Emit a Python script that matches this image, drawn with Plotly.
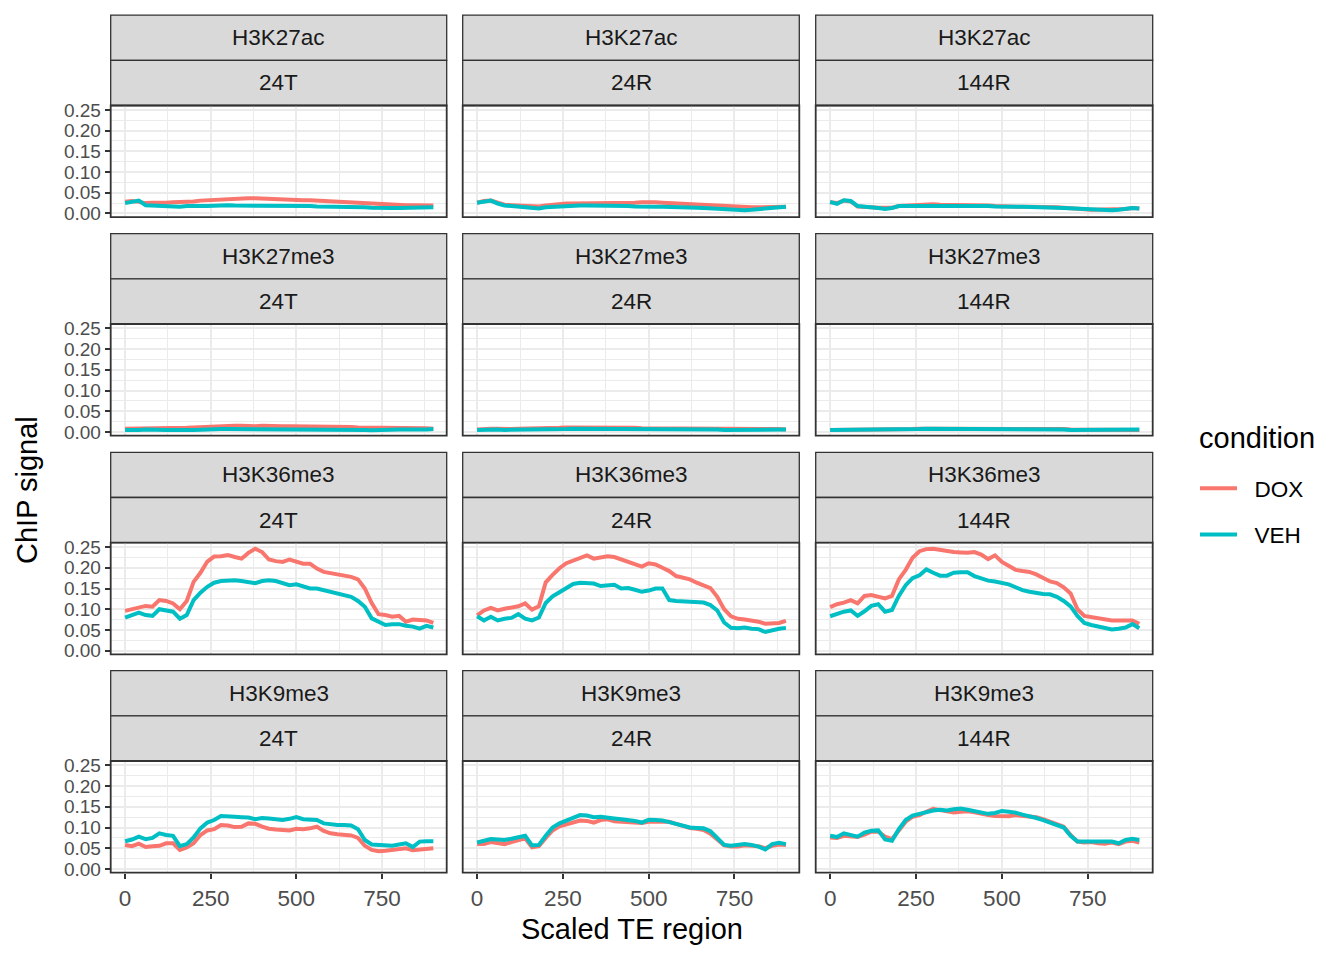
import plotly.graph_objects as go

# ---------------- data ----------------
MARKS = ["H3K27ac", "H3K27me3", "H3K36me3", "H3K9me3"]
TIMES = ["24T", "24R", "144R"]
CONDITIONS = ["DOX", "VEH"]
X_POS = list(range(0, 901, 20))  # scaled TE region bins
X_TICKS = [0, 250, 500, 750]
Y_TICKS = [0.00, 0.05, 0.10, 0.15, 0.20, 0.25]

# H3K27ac
dox_k27ac_24T = [0.028, 0.030, 0.028, 0.025, 0.026, 0.025, 0.026, 0.027, 0.027, 0.028, 0.029, 0.031, 0.032, 0.034, 0.035, 0.036, 0.036, 0.036, 0.037, 0.037, 0.036, 0.035, 0.034, 0.034, 0.033, 0.033, 0.032, 0.032, 0.031, 0.031, 0.030, 0.029, 0.028, 0.027, 0.026, 0.025, 0.024, 0.023, 0.022, 0.021, 0.021, 0.020, 0.020, 0.019, 0.019, 0.019]
veh_k27ac_24T = [0.025, 0.028, 0.031, 0.020, 0.019, 0.018, 0.017, 0.016, 0.016, 0.018, 0.017, 0.018, 0.018, 0.019, 0.020, 0.020, 0.019, 0.019, 0.019, 0.019, 0.020, 0.019, 0.019, 0.019, 0.018, 0.018, 0.018, 0.018, 0.017, 0.017, 0.017, 0.016, 0.016, 0.016, 0.015, 0.015, 0.014, 0.013, 0.012, 0.013, 0.013, 0.013, 0.013, 0.013, 0.014, 0.015]
dox_k27ac_24R = [0.026, 0.030, 0.031, 0.027, 0.021, 0.020, 0.019, 0.019, 0.018, 0.017, 0.019, 0.021, 0.023, 0.024, 0.024, 0.024, 0.024, 0.024, 0.024, 0.025, 0.025, 0.025, 0.025, 0.026, 0.027, 0.028, 0.027, 0.026, 0.025, 0.024, 0.024, 0.023, 0.022, 0.020, 0.019, 0.018, 0.017, 0.016, 0.016, 0.015, 0.015, 0.015, 0.015, 0.015, 0.016, 0.016]
veh_k27ac_24R = [0.026, 0.028, 0.031, 0.024, 0.019, 0.018, 0.017, 0.015, 0.014, 0.012, 0.015, 0.016, 0.018, 0.018, 0.019, 0.019, 0.019, 0.019, 0.020, 0.020, 0.020, 0.019, 0.018, 0.017, 0.016, 0.016, 0.016, 0.016, 0.016, 0.016, 0.015, 0.014, 0.014, 0.013, 0.012, 0.011, 0.010, 0.009, 0.009, 0.008, 0.009, 0.010, 0.011, 0.012, 0.014, 0.016]
dox_k27ac_144R = [0.027, 0.025, 0.031, 0.029, 0.017, 0.017, 0.015, 0.014, 0.013, 0.014, 0.018, 0.019, 0.020, 0.021, 0.021, 0.022, 0.021, 0.021, 0.020, 0.020, 0.020, 0.021, 0.020, 0.019, 0.018, 0.017, 0.017, 0.017, 0.016, 0.016, 0.016, 0.017, 0.017, 0.015, 0.014, 0.012, 0.011, 0.010, 0.009, 0.009, 0.010, 0.011, 0.010, 0.011, 0.013, 0.012]
veh_k27ac_144R = [0.028, 0.023, 0.032, 0.030, 0.018, 0.017, 0.016, 0.013, 0.011, 0.013, 0.018, 0.018, 0.019, 0.019, 0.019, 0.020, 0.020, 0.020, 0.020, 0.020, 0.020, 0.020, 0.019, 0.018, 0.017, 0.016, 0.016, 0.016, 0.016, 0.016, 0.016, 0.016, 0.015, 0.014, 0.013, 0.012, 0.011, 0.010, 0.009, 0.008, 0.008, 0.008, 0.009, 0.011, 0.013, 0.012]

# H3K27me3
dox_k27me3_24T = [0.008, 0.008, 0.009, 0.009, 0.009, 0.010, 0.010, 0.009, 0.010, 0.010, 0.011, 0.012, 0.013, 0.014, 0.015, 0.015, 0.015, 0.015, 0.014, 0.014, 0.015, 0.014, 0.014, 0.014, 0.014, 0.014, 0.014, 0.013, 0.013, 0.013, 0.013, 0.012, 0.012, 0.012, 0.011, 0.011, 0.010, 0.010, 0.009, 0.009, 0.009, 0.009, 0.009, 0.009, 0.009, 0.008]
veh_k27me3_24T = [0.005, 0.004, 0.005, 0.006, 0.005, 0.004, 0.005, 0.005, 0.006, 0.005, 0.005, 0.006, 0.007, 0.007, 0.007, 0.007, 0.007, 0.007, 0.007, 0.006, 0.007, 0.007, 0.007, 0.006, 0.006, 0.007, 0.007, 0.007, 0.007, 0.007, 0.007, 0.006, 0.006, 0.007, 0.006, 0.005, 0.004, 0.005, 0.005, 0.005, 0.006, 0.006, 0.005, 0.006, 0.006, 0.007]
dox_k27me3_24R = [0.006, 0.008, 0.008, 0.008, 0.007, 0.007, 0.008, 0.008, 0.009, 0.009, 0.010, 0.010, 0.010, 0.011, 0.011, 0.010, 0.010, 0.011, 0.012, 0.011, 0.010, 0.010, 0.010, 0.010, 0.009, 0.009, 0.009, 0.009, 0.009, 0.009, 0.008, 0.008, 0.008, 0.008, 0.008, 0.008, 0.008, 0.007, 0.007, 0.007, 0.007, 0.007, 0.007, 0.007, 0.007, 0.006]
veh_k27me3_24R = [0.005, 0.006, 0.006, 0.006, 0.005, 0.005, 0.006, 0.006, 0.006, 0.006, 0.006, 0.007, 0.007, 0.007, 0.008, 0.008, 0.007, 0.007, 0.006, 0.007, 0.007, 0.007, 0.007, 0.007, 0.007, 0.007, 0.007, 0.007, 0.007, 0.006, 0.006, 0.006, 0.006, 0.006, 0.006, 0.006, 0.005, 0.005, 0.005, 0.005, 0.005, 0.005, 0.005, 0.005, 0.006, 0.006]
dox_k27me3_144R = [0.005, 0.005, 0.006, 0.006, 0.006, 0.006, 0.006, 0.006, 0.006, 0.006, 0.007, 0.007, 0.007, 0.008, 0.009, 0.008, 0.008, 0.008, 0.009, 0.009, 0.008, 0.008, 0.008, 0.008, 0.008, 0.008, 0.008, 0.007, 0.007, 0.007, 0.007, 0.007, 0.007, 0.007, 0.007, 0.006, 0.006, 0.006, 0.006, 0.006, 0.005, 0.005, 0.005, 0.005, 0.005, 0.005]
veh_k27me3_144R = [0.005, 0.005, 0.005, 0.005, 0.005, 0.005, 0.005, 0.005, 0.005, 0.005, 0.006, 0.006, 0.007, 0.007, 0.008, 0.008, 0.008, 0.008, 0.007, 0.007, 0.007, 0.007, 0.007, 0.007, 0.007, 0.007, 0.007, 0.006, 0.006, 0.006, 0.006, 0.006, 0.006, 0.006, 0.006, 0.005, 0.005, 0.005, 0.005, 0.005, 0.005, 0.005, 0.005, 0.005, 0.006, 0.006]

# H3K36me3
dox_k36me3_24T = [0.096, 0.100, 0.104, 0.108, 0.106, 0.122, 0.120, 0.114, 0.100, 0.120, 0.166, 0.188, 0.215, 0.227, 0.228, 0.231, 0.226, 0.222, 0.236, 0.246, 0.238, 0.220, 0.216, 0.214, 0.220, 0.215, 0.210, 0.210, 0.198, 0.190, 0.187, 0.184, 0.182, 0.178, 0.172, 0.150, 0.115, 0.088, 0.086, 0.082, 0.084, 0.070, 0.075, 0.074, 0.073, 0.067]
veh_k36me3_24T = [0.080, 0.086, 0.092, 0.086, 0.084, 0.100, 0.096, 0.094, 0.077, 0.086, 0.122, 0.140, 0.154, 0.164, 0.168, 0.170, 0.170, 0.168, 0.166, 0.163, 0.168, 0.170, 0.168, 0.164, 0.158, 0.160, 0.154, 0.150, 0.150, 0.146, 0.144, 0.140, 0.136, 0.130, 0.120, 0.106, 0.078, 0.070, 0.062, 0.064, 0.064, 0.060, 0.058, 0.053, 0.060, 0.056]
dox_k36me3_24R = [0.085, 0.097, 0.103, 0.097, 0.101, 0.105, 0.107, 0.114, 0.099, 0.107, 0.165, 0.183, 0.199, 0.211, 0.217, 0.224, 0.230, 0.222, 0.226, 0.228, 0.226, 0.220, 0.214, 0.208, 0.203, 0.211, 0.208, 0.200, 0.192, 0.180, 0.177, 0.172, 0.164, 0.158, 0.151, 0.130, 0.100, 0.083, 0.077, 0.075, 0.073, 0.070, 0.065, 0.066, 0.067, 0.072]
veh_k36me3_24R = [0.083, 0.073, 0.082, 0.073, 0.077, 0.079, 0.088, 0.077, 0.073, 0.080, 0.115, 0.131, 0.141, 0.150, 0.161, 0.164, 0.163, 0.162, 0.156, 0.157, 0.159, 0.150, 0.151, 0.147, 0.142, 0.145, 0.150, 0.150, 0.122, 0.120, 0.119, 0.118, 0.118, 0.116, 0.110, 0.097, 0.068, 0.055, 0.054, 0.056, 0.053, 0.052, 0.045, 0.050, 0.053, 0.055]
dox_k36me3_144R = [0.105, 0.112, 0.116, 0.122, 0.114, 0.132, 0.134, 0.130, 0.126, 0.132, 0.172, 0.195, 0.224, 0.240, 0.245, 0.246, 0.243, 0.240, 0.238, 0.237, 0.236, 0.238, 0.232, 0.221, 0.230, 0.214, 0.205, 0.195, 0.192, 0.190, 0.184, 0.176, 0.167, 0.163, 0.153, 0.138, 0.100, 0.084, 0.081, 0.079, 0.076, 0.073, 0.073, 0.073, 0.073, 0.065]
veh_k36me3_144R = [0.083, 0.089, 0.094, 0.097, 0.084, 0.095, 0.108, 0.112, 0.094, 0.098, 0.132, 0.158, 0.175, 0.182, 0.196, 0.188, 0.181, 0.181, 0.188, 0.189, 0.189, 0.180, 0.174, 0.169, 0.167, 0.164, 0.160, 0.153, 0.146, 0.142, 0.139, 0.137, 0.136, 0.130, 0.120, 0.107, 0.084, 0.067, 0.062, 0.059, 0.056, 0.051, 0.053, 0.056, 0.064, 0.054]

# H3K9me3
dox_k9me3_24T = [0.058, 0.055, 0.061, 0.053, 0.055, 0.056, 0.062, 0.062, 0.046, 0.052, 0.062, 0.082, 0.093, 0.096, 0.106, 0.105, 0.101, 0.102, 0.110, 0.109, 0.102, 0.097, 0.095, 0.094, 0.093, 0.097, 0.096, 0.098, 0.102, 0.092, 0.086, 0.084, 0.083, 0.081, 0.075, 0.056, 0.046, 0.043, 0.044, 0.046, 0.048, 0.050, 0.045, 0.046, 0.048, 0.050]
veh_k9me3_24T = [0.067, 0.071, 0.078, 0.072, 0.075, 0.086, 0.082, 0.080, 0.055, 0.060, 0.076, 0.098, 0.112, 0.118, 0.128, 0.128, 0.126, 0.125, 0.124, 0.120, 0.123, 0.122, 0.119, 0.118, 0.121, 0.125, 0.120, 0.119, 0.118, 0.110, 0.107, 0.106, 0.106, 0.105, 0.096, 0.070, 0.059, 0.058, 0.056, 0.056, 0.059, 0.062, 0.053, 0.066, 0.067, 0.067]
dox_k9me3_24R = [0.060, 0.060, 0.065, 0.062, 0.060, 0.065, 0.070, 0.074, 0.052, 0.055, 0.075, 0.093, 0.103, 0.108, 0.113, 0.117, 0.116, 0.112, 0.118, 0.120, 0.115, 0.114, 0.113, 0.112, 0.111, 0.114, 0.114, 0.116, 0.114, 0.109, 0.103, 0.099, 0.097, 0.094, 0.085, 0.072, 0.057, 0.054, 0.054, 0.057, 0.055, 0.055, 0.050, 0.056, 0.059, 0.058]
veh_k9me3_24R = [0.064, 0.068, 0.072, 0.071, 0.070, 0.073, 0.077, 0.080, 0.057, 0.058, 0.080, 0.100, 0.110, 0.116, 0.124, 0.130, 0.129, 0.125, 0.126, 0.125, 0.122, 0.120, 0.119, 0.116, 0.112, 0.119, 0.118, 0.117, 0.113, 0.108, 0.104, 0.100, 0.099, 0.098, 0.091, 0.075, 0.058, 0.056, 0.057, 0.060, 0.058, 0.054, 0.047, 0.060, 0.063, 0.060]
dox_k9me3_144R = [0.076, 0.075, 0.080, 0.079, 0.077, 0.083, 0.090, 0.090, 0.078, 0.072, 0.094, 0.114, 0.126, 0.130, 0.138, 0.145, 0.142, 0.138, 0.136, 0.138, 0.139, 0.137, 0.133, 0.130, 0.128, 0.128, 0.127, 0.130, 0.129, 0.126, 0.125, 0.120, 0.114, 0.110, 0.102, 0.082, 0.066, 0.064, 0.065, 0.062, 0.061, 0.064, 0.060, 0.066, 0.068, 0.064]
veh_k9me3_144R = [0.080, 0.077, 0.086, 0.083, 0.078, 0.088, 0.092, 0.093, 0.071, 0.068, 0.096, 0.118, 0.129, 0.133, 0.138, 0.141, 0.143, 0.141, 0.144, 0.146, 0.143, 0.140, 0.135, 0.133, 0.135, 0.140, 0.138, 0.136, 0.131, 0.128, 0.123, 0.118, 0.112, 0.108, 0.100, 0.080, 0.066, 0.066, 0.066, 0.066, 0.065, 0.066, 0.062, 0.070, 0.073, 0.070]

SERIES = {
    ("H3K27ac", "24T"): (dox_k27ac_24T, veh_k27ac_24T),
    ("H3K27ac", "24R"): (dox_k27ac_24R, veh_k27ac_24R),
    ("H3K27ac", "144R"): (dox_k27ac_144R, veh_k27ac_144R),
    ("H3K27me3", "24T"): (dox_k27me3_24T, veh_k27me3_24T),
    ("H3K27me3", "24R"): (dox_k27me3_24R, veh_k27me3_24R),
    ("H3K27me3", "144R"): (dox_k27me3_144R, veh_k27me3_144R),
    ("H3K36me3", "24T"): (dox_k36me3_24T, veh_k36me3_24T),
    ("H3K36me3", "24R"): (dox_k36me3_24R, veh_k36me3_24R),
    ("H3K36me3", "144R"): (dox_k36me3_144R, veh_k36me3_144R),
    ("H3K9me3", "24T"): (dox_k9me3_24T, veh_k9me3_24T),
    ("H3K9me3", "24R"): (dox_k9me3_24R, veh_k9me3_24R),
    ("H3K9me3", "144R"): (dox_k9me3_144R, veh_k9me3_144R),
}

# ---------------- style / layout ----------------
OFF = 8  # browser default body margin
W, H = 1344 - OFF, 960 - OFF
COLORS = {"DOX": "#F8766D", "VEH": "#00BFC4"}
FONT = "Liberation Sans, Arial, sans-serif"
COL_L = [110.7, 462.7, 815.7]
COL_R = [446.7, 799.3, 1152.7]
ROW_T = [105.5, 324.0, 542.7, 761.0]
PANEL_H = 111.7
STRIP_H = 45.2
X_RANGE = [-42, 939]
Y_RANGE = [-0.009, 0.2605]
SMALL = 22.5
YTICK = 19
BIG = 29
NBSP = "\u00a0"


def px_x(v):
    return (v - OFF) / W


def px_y(v):
    return 1 - (v - OFF) / H


fig = go.Figure()
shapes = []
annotations = []

for r, mark in enumerate(MARKS):
    for c, tp in enumerate(TIMES):
        idx = r * 3 + c + 1
        xa = "x" if idx == 1 else f"x{idx}"
        ya = "y" if idx == 1 else f"y{idx}"
        top = ROW_T[r]
        bot = top + PANEL_H
        dom_x = [px_x(COL_L[c]), px_x(COL_R[c])]
        dom_y = [px_y(bot), px_y(top)]
        bottom_row = r == len(MARKS) - 1
        left_col = c == 0
        xkey = "xaxis" if idx == 1 else f"xaxis{idx}"
        ykey = "yaxis" if idx == 1 else f"yaxis{idx}"
        fig.layout[xkey] = dict(
            domain=dom_x, anchor=ya, range=X_RANGE, tickvals=X_TICKS, automargin=False,
            showgrid=True, gridcolor="#EBEBEB", gridwidth=2, zeroline=False,
            showline=False,
            minor=dict(dtick=125, tick0=125, showgrid=True, gridcolor="#EBEBEB", gridwidth=1, ticks=""),
            ticks="outside" if bottom_row else "", ticklen=5, tickwidth=1.5, tickcolor="#333333",
            showticklabels=bottom_row,
            tickfont=dict(family=FONT, size=SMALL, color="#4D4D4D"),
        )
        fig.layout[ykey] = dict(
            domain=dom_y, anchor=xa, range=Y_RANGE, tickvals=Y_TICKS, tickformat=".2f",
            automargin=False,
            showgrid=True, gridcolor="#EBEBEB", gridwidth=2, zeroline=False,
            showline=False,
            minor=dict(dtick=0.025, tick0=0.025, showgrid=True, gridcolor="#EBEBEB", gridwidth=1, ticks=""),
            ticks="outside" if left_col else "", ticklen=5, tickwidth=1.5, tickcolor="#333333",
            showticklabels=left_col,
            tickfont=dict(family=FONT, size=YTICK, color="#4D4D4D"),
        )
        dox, veh = SERIES[(mark, tp)]
        for cond, vals in zip(CONDITIONS, (dox, veh)):
            fig.add_trace(go.Scatter(
                x=X_POS, y=vals, mode="lines", xaxis=xa, yaxis=ya,
                line=dict(color=COLORS[cond], width=4),
                name=NBSP * 2 + cond, legendgroup=cond, showlegend=(idx == 1),
            ))
        # panel border
        shapes.append(dict(type="rect", xref="paper", yref="paper",
                           x0=dom_x[0], x1=dom_x[1], y0=dom_y[0], y1=dom_y[1],
                           line=dict(color="#333333", width=1.8), layer="above"))
        # two strips
        for k, label in enumerate((mark, tp)):
            s_top = top - STRIP_H * (2 - k)
            s_bot = s_top + STRIP_H
            shapes.append(dict(type="rect", xref="paper", yref="paper",
                               x0=dom_x[0], x1=dom_x[1], y0=px_y(s_bot), y1=px_y(s_top),
                               fillcolor="#D9D9D9", line=dict(color="#333333", width=1.3),
                               layer="below"))
            annotations.append(dict(text=label, xref="paper", yref="paper",
                                    x=(dom_x[0] + dom_x[1]) / 2, y=px_y((s_top + s_bot) / 2),
                                    showarrow=False, xanchor="center", yanchor="middle",
                                    font=dict(family=FONT, size=SMALL, color="#1A1A1A")))

annotations.append(dict(text="Scaled TE region", xref="paper", yref="paper",
                        x=px_x((COL_L[0] + COL_R[2]) / 2), y=px_y(929),
                        showarrow=False, xanchor="center", yanchor="middle",
                        font=dict(family=FONT, size=BIG, color="#000000")))
annotations.append(dict(text="ChIP signal", xref="paper", yref="paper",
                        x=px_x(27), y=px_y(490), textangle=-90,
                        showarrow=False, xanchor="center", yanchor="middle",
                        font=dict(family=FONT, size=BIG, color="#000000")))
# legend title
annotations.append(dict(text="condition", xref="paper", yref="paper",
                        x=px_x(1197), y=px_y(438),
                        showarrow=False, xanchor="left", yanchor="middle",
                        font=dict(family=FONT, size=BIG, color="#000000")))

fig.update_layout(
    width=W, height=H, autosize=False,
    margin=dict(l=0, r=0, t=0, b=0, autoexpand=False),
    paper_bgcolor="white", plot_bgcolor="white",
    shapes=shapes, annotations=annotations,
    showlegend=True,
    legend=dict(
        font=dict(family=FONT, size=SMALL, color="#000000"),
        x=px_x(1195), y=px_y(467), xanchor="left", yanchor="top",
        bgcolor="rgba(0,0,0,0)", tracegroupgap=14, itemwidth=37,
    ),
)

fig.write_html("out.html")
